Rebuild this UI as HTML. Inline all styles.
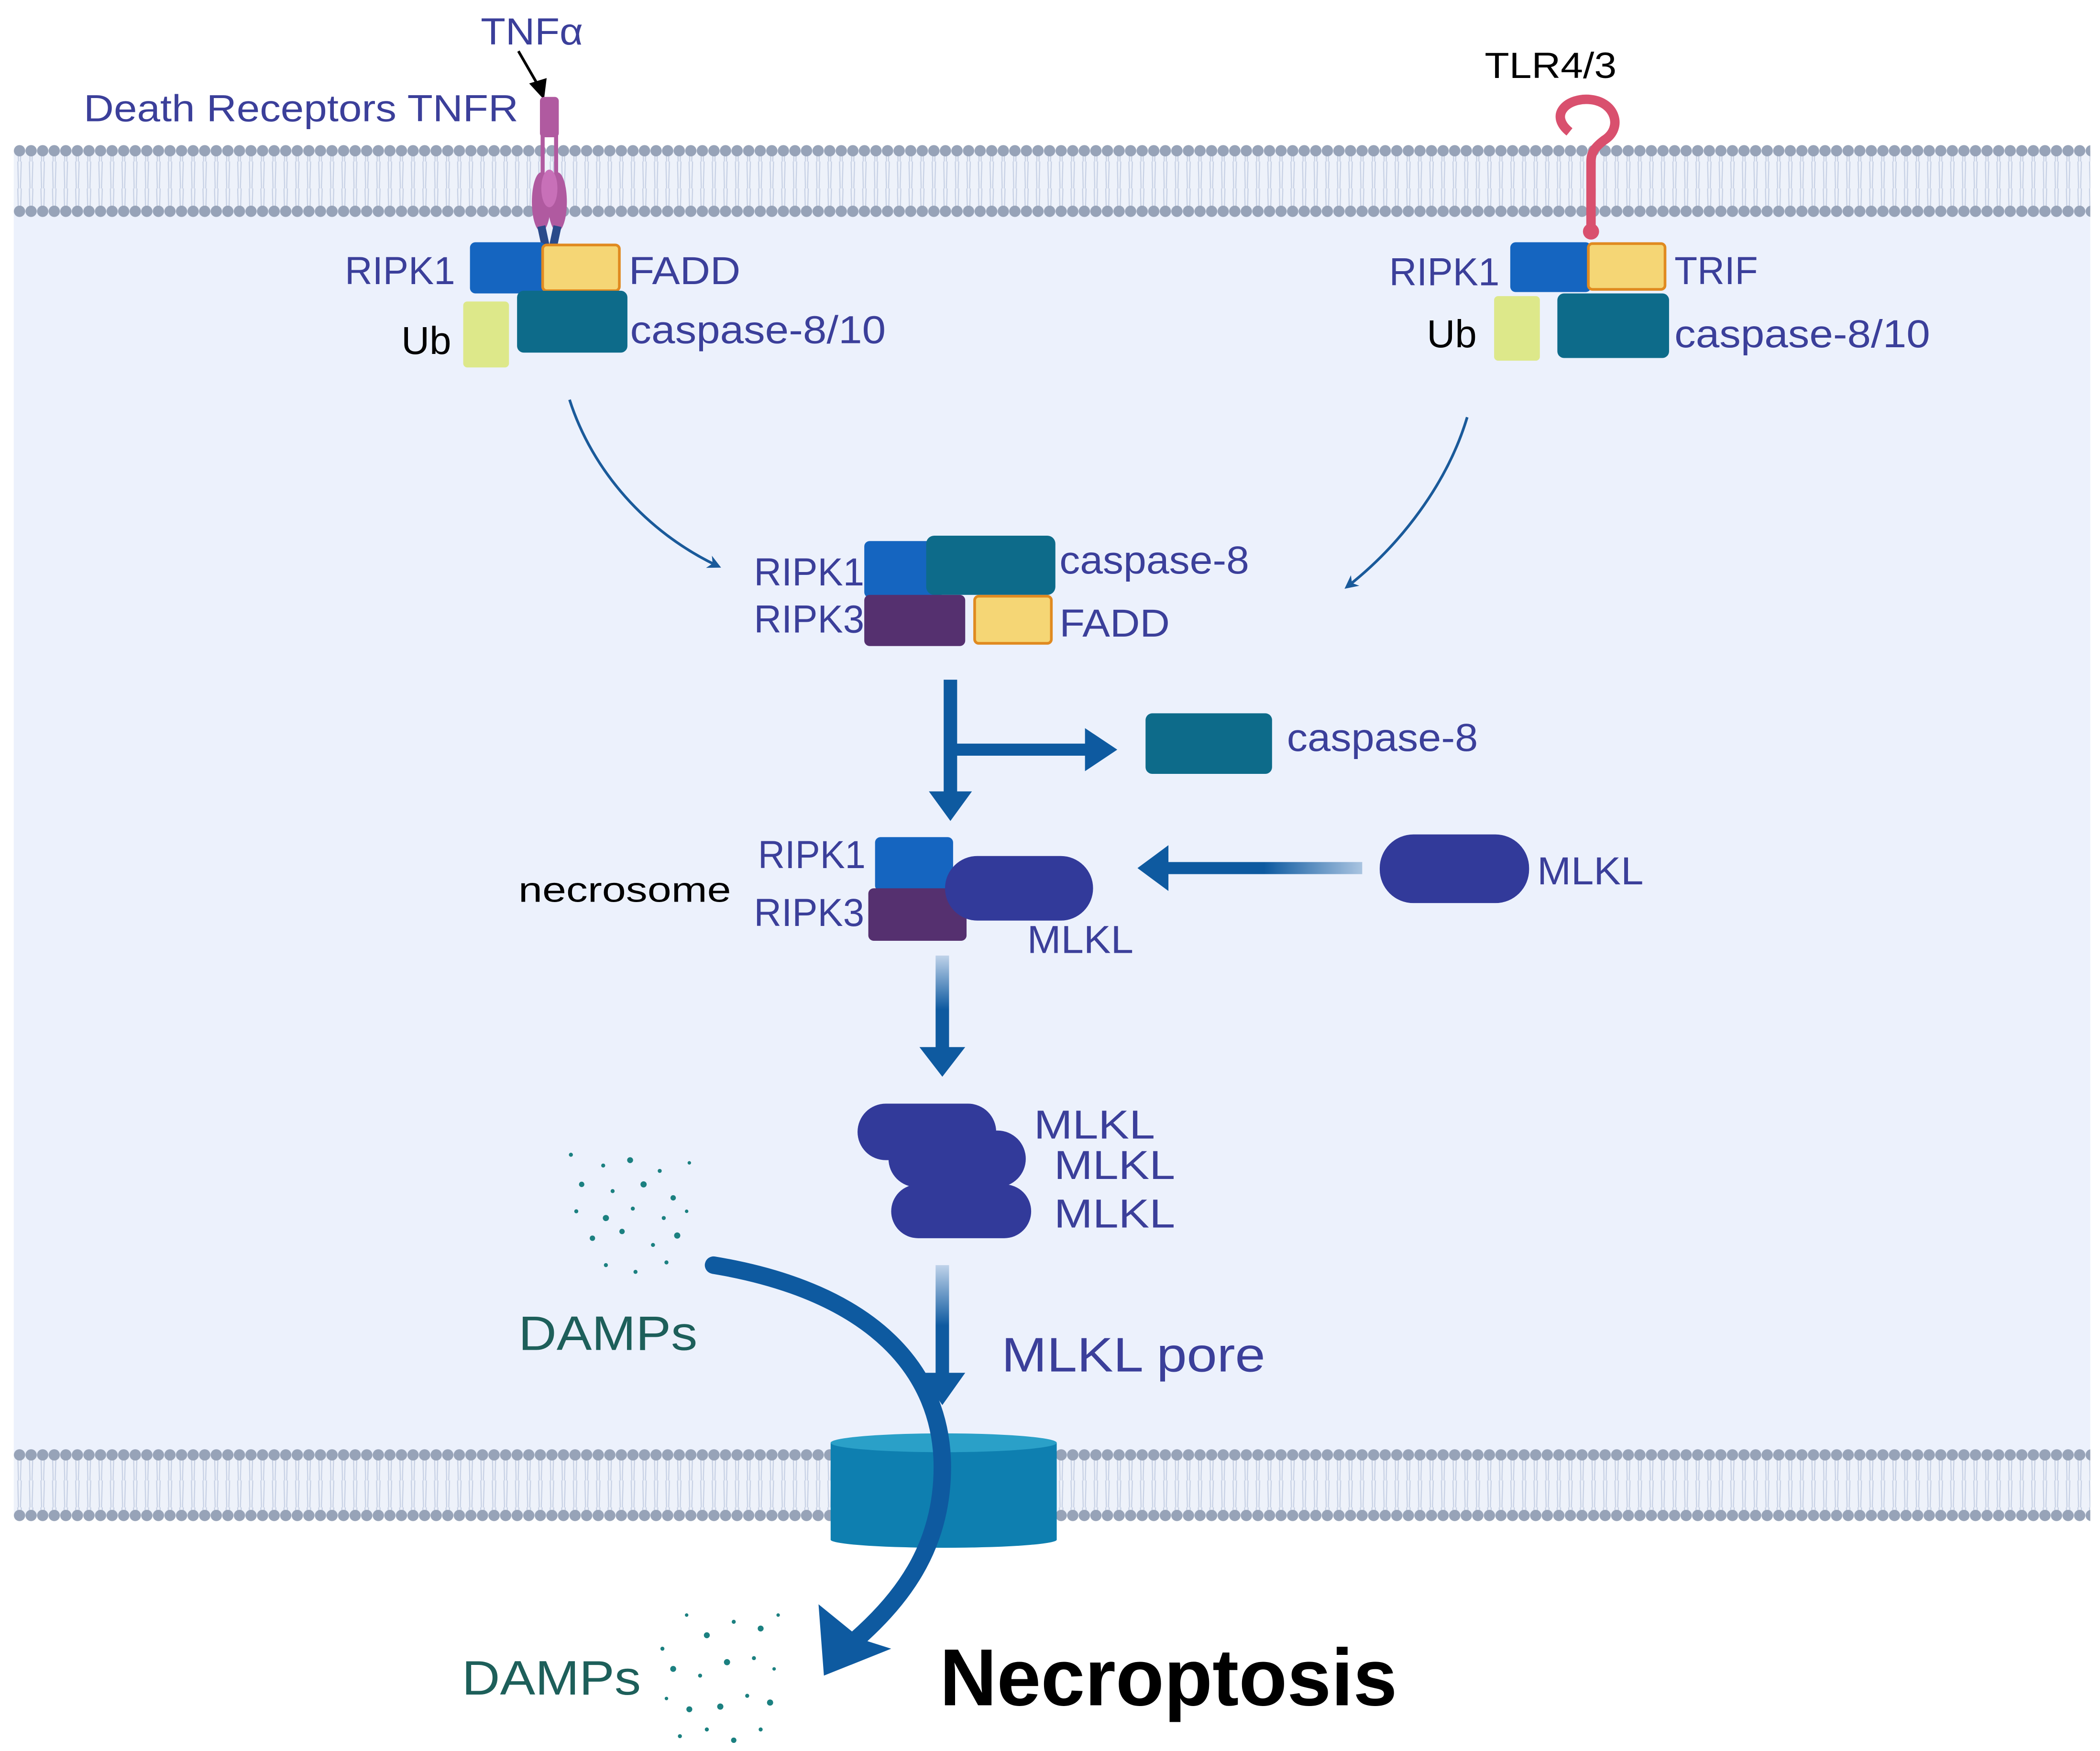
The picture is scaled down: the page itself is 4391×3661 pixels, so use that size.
<!DOCTYPE html>
<html><head><meta charset="utf-8"><style>html,body{margin:0;padding:0;background:#fff}svg{display:block}</style></head>
<body>
<svg width="4391" height="3661" viewBox="0 0 1560 1301" xmlns="http://www.w3.org/2000/svg" font-family="Liberation Sans, sans-serif">
<defs>
<pattern id="h1" x="10" y="102" width="8.6" height="20" patternUnits="userSpaceOnUse"><circle cx="4.3" cy="10" r="4.2" fill="#97a3b8"/></pattern>
<pattern id="h2" x="10" y="147" width="8.6" height="20" patternUnits="userSpaceOnUse"><circle cx="4.3" cy="10" r="4.2" fill="#97a3b8"/></pattern>
<pattern id="h3" x="10" y="1071" width="8.6" height="20" patternUnits="userSpaceOnUse"><circle cx="4.3" cy="10" r="4.2" fill="#97a3b8"/></pattern>
<pattern id="h4" x="10" y="1116" width="8.6" height="20" patternUnits="userSpaceOnUse"><circle cx="4.3" cy="10" r="4.2" fill="#97a3b8"/></pattern>
<pattern id="tails" x="10" y="0" width="8.6" height="20" patternUnits="userSpaceOnUse"><path d="M3 0 L3.5 20 M5.6 0 L5 20" stroke="#c6d0e4" stroke-width="0.8"/></pattern>
<linearGradient id="g1" gradientUnits="userSpaceOnUse" x1="0" y1="710" x2="0" y2="790"><stop offset="0" stop-color="#0e5aa0" stop-opacity="0.2"/><stop offset="0.5" stop-color="#0e5aa0"/></linearGradient>
<linearGradient id="g3" gradientUnits="userSpaceOnUse" x1="0" y1="940" x2="0" y2="1030"><stop offset="0" stop-color="#0e5aa0" stop-opacity="0.2"/><stop offset="0.5" stop-color="#0e5aa0"/></linearGradient>
<linearGradient id="g2" gradientUnits="userSpaceOnUse" x1="1012" y1="0" x2="866" y2="0"><stop offset="0" stop-color="#0e5aa0" stop-opacity="0.3"/><stop offset="0.5" stop-color="#0e5aa0"/></linearGradient>
<marker id="ah" markerWidth="10" markerHeight="10" refX="6" refY="5" orient="auto" markerUnits="userSpaceOnUse" viewBox="0 0 10 10"><path d="M0 0 L10 5 L0 10 L3 5Z" fill="#1a5a9a"/></marker>
</defs>
<rect x="10" y="150" width="1543" height="935" fill="#ecf1fc"/>
<!-- top membrane -->
<rect x="10" y="112" width="1543" height="45" fill="#eef2fa"/>
<rect x="10" y="112" width="1543" height="45" fill="url(#tails)"/>
<rect x="10" y="102" width="1543" height="20" fill="url(#h1)"/>
<rect x="10" y="147" width="1543" height="20" fill="url(#h2)"/>
<!-- bottom membrane -->
<rect x="10" y="1081" width="1543" height="45" fill="#eef2fa"/>
<rect x="10" y="1081" width="1543" height="45" fill="url(#tails)"/>
<rect x="10" y="1071" width="1543" height="20" fill="url(#h3)"/>
<rect x="10" y="1116" width="1543" height="20" fill="url(#h4)"/>

<g fill="#3b3f9a" font-size="28">
<text x="357" y="33" textLength="76" lengthAdjust="spacingAndGlyphs">TNFα</text>
<text x="62" y="90" textLength="323" lengthAdjust="spacingAndGlyphs">Death Receptors TNFR</text>
</g>
<path d="M385 38 L400 64" stroke="#000" stroke-width="2"/><path d="M393 62 L404 74 L406 58Z" fill="#000"/>
<!-- TNFR receptor -->
<rect x="401" y="72" width="14" height="30" rx="3" fill="#b05aa0"/>
<path d="M403 100 L403 130 M413 100 L413 130" stroke="#b05aa0" stroke-width="3"/>
<ellipse cx="402" cy="150" rx="7" ry="22" fill="#b05aa0"/><ellipse cx="414" cy="150" rx="7" ry="22" fill="#b05aa0"/><ellipse cx="408" cy="140" rx="6" ry="14" fill="#c870b8"/>
<path d="M402 168 L405 182 M414 168 L411 182" stroke="#2a4a8a" stroke-width="6"/>
<!-- left complex -->
<rect x="349" y="180" width="56" height="38" rx="4" fill="#1565c0"/>
<rect x="403" y="182" width="57" height="34" rx="3" fill="#f5d675" stroke="#e08a20" stroke-width="2"/>
<rect x="384" y="216" width="82" height="46" rx="5" fill="#0d6b8a"/>
<rect x="344" y="224" width="34" height="49" rx="3" fill="#dde88a"/>
<g fill="#3b3f9a" font-size="29">
<text x="256" y="211" textLength="82" lengthAdjust="spacingAndGlyphs">RIPK1</text><text x="467" y="211" textLength="83" lengthAdjust="spacingAndGlyphs">FADD</text><text x="468" y="255" textLength="190" lengthAdjust="spacingAndGlyphs">caspase-8/10</text>
</g>
<text x="298" y="263" font-size="29" fill="#000">Ub</text>
<!-- right receptor TLR -->
<text x="1103" y="58" font-size="27" fill="#000" textLength="98" lengthAdjust="spacingAndGlyphs">TLR4/3</text>
<path d="M1166 98 C1150 85 1165 72 1182 74 C1200 76 1206 95 1192 104 C1184 110 1182 114 1182 120 L1182 170" stroke="#d9506e" stroke-width="7" fill="none"/>
<circle cx="1182" cy="172" r="6" fill="#d9506e"/>
<rect x="1122" y="180" width="60" height="37" rx="4" fill="#1565c0"/>
<rect x="1180" y="181" width="57" height="34" rx="3" fill="#f5d675" stroke="#e08a20" stroke-width="2"/>
<rect x="1157" y="218" width="83" height="48" rx="5" fill="#0d6b8a"/>
<rect x="1110" y="220" width="34" height="48" rx="3" fill="#dde88a"/>
<g fill="#3b3f9a" font-size="29">
<text x="1032" y="212" textLength="82" lengthAdjust="spacingAndGlyphs">RIPK1</text><text x="1244" y="211" textLength="62" lengthAdjust="spacingAndGlyphs">TRIF</text><text x="1244" y="258" textLength="190" lengthAdjust="spacingAndGlyphs">caspase-8/10</text>
</g>
<text x="1060" y="258" font-size="29" fill="#000">Ub</text>
<!-- thin curved arrows -->
<path d="M423 297 C440 350 480 395 532 420" stroke="#1a5a9a" stroke-width="2" fill="none" marker-end="url(#ah)"/>
<path d="M1090 310 C1075 360 1040 405 1002 435" stroke="#1a5a9a" stroke-width="2" fill="none" marker-end="url(#ah)"/>
<!-- middle complex -->
<rect x="642" y="402" width="58" height="42" rx="4" fill="#1565c0"/>
<rect x="688" y="398" width="96" height="44" rx="6" fill="#0d6b8a"/>
<rect x="642" y="442" width="75" height="38" rx="4" fill="#55306f"/>
<rect x="724" y="443" width="57" height="35" rx="3" fill="#f5d675" stroke="#e08a20" stroke-width="2"/>
<g fill="#3b3f9a" font-size="29">
<text x="560" y="435" textLength="82" lengthAdjust="spacingAndGlyphs">RIPK1</text><text x="560" y="470" textLength="82" lengthAdjust="spacingAndGlyphs">RIPK3</text><text x="787" y="426" textLength="141" lengthAdjust="spacingAndGlyphs">caspase-8</text><text x="787" y="473" textLength="82" lengthAdjust="spacingAndGlyphs">FADD</text>
</g>
<!-- thick arrows -->
<path d="M706 505 L706 590" stroke="#0e5aa0" stroke-width="10"/><path d="M690 588 L722 588 L706 610Z" fill="#0e5aa0"/>
<path d="M706 557 L808 557" stroke="#0e5aa0" stroke-width="9"/><path d="M806 541 L830 557 L806 573Z" fill="#0e5aa0"/>
<rect x="851" y="530" width="94" height="45" rx="5" fill="#0d6b8a"/>
<text x="956" y="558" font-size="29" fill="#3b3f9a" textLength="142" lengthAdjust="spacingAndGlyphs">caspase-8</text>
<!-- necrosome -->
<rect x="650" y="622" width="58" height="40" rx="4" fill="#1565c0"/>
<rect x="645" y="660" width="73" height="39" rx="4" fill="#55306f"/>
<rect x="702" y="636" width="110" height="48" rx="24" fill="#323a9a"/>
<g fill="#3b3f9a" font-size="29">
<text x="563" y="645" textLength="80" lengthAdjust="spacingAndGlyphs">RIPK1</text><text x="560" y="688" textLength="82" lengthAdjust="spacingAndGlyphs">RIPK3</text><text x="763" y="708" textLength="79" lengthAdjust="spacingAndGlyphs">MLKL</text>
<text x="1142" y="657" textLength="79" lengthAdjust="spacingAndGlyphs">MLKL</text>
</g>
<text x="385" y="670" font-size="26" fill="#000" textLength="158" lengthAdjust="spacingAndGlyphs">necrosome</text>
<path d="M1012 645 L866 645" stroke="url(#g2)" stroke-width="9"/><path d="M868 628 L845 645 L868 662Z" fill="#0e5aa0"/>
<rect x="1025" y="620" width="111" height="51" rx="25" fill="#323a9a"/>
<!-- arrow down to MLKL stack -->
<path d="M700 710 L700 780" stroke="url(#g1)" stroke-width="10"/><path d="M683 778 L717 778 L700 800Z" fill="#0e5aa0"/>
<rect x="637" y="820" width="103" height="42" rx="21" fill="#323a9a"/>
<rect x="660" y="840" width="102" height="42" rx="21" fill="#323a9a"/>
<rect x="662" y="880" width="104" height="40" rx="20" fill="#323a9a"/>
<g fill="#3b3f9a" font-size="30">
<text x="768" y="846" textLength="90" lengthAdjust="spacingAndGlyphs">MLKL</text><text x="783" y="876" textLength="90" lengthAdjust="spacingAndGlyphs">MLKL</text><text x="783" y="912" textLength="90" lengthAdjust="spacingAndGlyphs">MLKL</text>
</g>
<path d="M700 940 L700 1022" stroke="url(#g3)" stroke-width="10"/><path d="M683 1020 L717 1020 L700 1044Z" fill="#0e5aa0"/>
<text x="744" y="1019" font-size="36" fill="#3b3f9a" textLength="196" lengthAdjust="spacingAndGlyphs">MLKL pore</text>
<!-- pore -->
<rect x="617" y="1072" width="168" height="72" fill="#0e7fb0"/>
<ellipse cx="701" cy="1144" rx="84" ry="6" fill="#0e7fb0"/>
<ellipse cx="701" cy="1072" rx="84" ry="7" fill="#2aa0c8"/>
<!-- big curved arrow -->
<path d="M530 940 C650 960 700 1020 700 1090 C700 1150 670 1190 628 1225" stroke="#0e5aa0" stroke-width="13" fill="none" stroke-linecap="round"/>
<path d="M608 1192 L612 1245 L662 1225 L640 1218Z" fill="#0e5aa0"/>
<!-- DAMPs -->
<g fill="#1b8080">
<circle cx="424" cy="858" r="1.5"/><circle cx="448" cy="866" r="1.5"/><circle cx="468" cy="862" r="2.2"/><circle cx="490" cy="870" r="1.5"/><circle cx="512" cy="864" r="1.3"/>
<circle cx="432" cy="880" r="2"/><circle cx="455" cy="885" r="1.5"/><circle cx="478" cy="880" r="2.3"/><circle cx="500" cy="890" r="2"/>
<circle cx="428" cy="900" r="1.5"/><circle cx="450" cy="905" r="2.3"/><circle cx="470" cy="898" r="1.5"/><circle cx="493" cy="905" r="1.5"/><circle cx="510" cy="900" r="1.3"/>
<circle cx="440" cy="920" r="2"/><circle cx="462" cy="915" r="2"/><circle cx="485" cy="925" r="1.5"/><circle cx="503" cy="918" r="2.3"/>
<circle cx="450" cy="940" r="1.5"/><circle cx="472" cy="945" r="1.5"/><circle cx="495" cy="938" r="1.5"/>
<circle cx="492" cy="1225" r="1.5"/><circle cx="510" cy="1200" r="1.3"/><circle cx="525" cy="1215" r="2.2"/><circle cx="545" cy="1205" r="1.5"/><circle cx="565" cy="1210" r="2.2"/><circle cx="578" cy="1200" r="1.3"/>
<circle cx="500" cy="1240" r="2.2"/><circle cx="520" cy="1245" r="1.5"/><circle cx="540" cy="1235" r="2.3"/><circle cx="560" cy="1232" r="1.5"/><circle cx="575" cy="1240" r="1.3"/>
<circle cx="495" cy="1262" r="1.3"/><circle cx="512" cy="1270" r="2.2"/><circle cx="535" cy="1268" r="2.3"/><circle cx="555" cy="1260" r="1.5"/><circle cx="572" cy="1265" r="2.3"/>
<circle cx="505" cy="1290" r="1.5"/><circle cx="525" cy="1285" r="1.5"/><circle cx="545" cy="1293" r="2"/><circle cx="565" cy="1285" r="1.5"/>
</g>
<text x="385" y="1003" font-size="36" fill="#1d5f5a" textLength="133" lengthAdjust="spacingAndGlyphs">DAMPs</text>
<text x="343" y="1259" font-size="36" fill="#1d5f5a" textLength="133" lengthAdjust="spacingAndGlyphs">DAMPs</text>
<text x="698" y="1267" font-size="60" font-weight="bold" fill="#000" textLength="340" lengthAdjust="spacingAndGlyphs">Necroptosis</text>
</svg>
</body></html>
